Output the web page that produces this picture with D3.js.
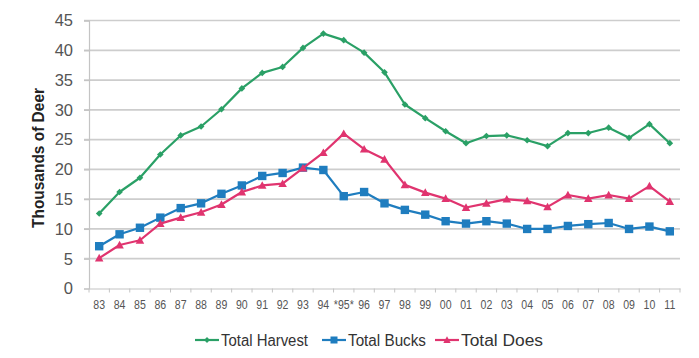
<!DOCTYPE html>
<html>
<head>
<meta charset="utf-8">
<script src="https://cdn.jsdelivr.net/npm/d3@7"></script>
<style>
  html, body { margin: 0; padding: 0; background: #fff; }
  svg { display: block; }
  text { font-family: "Liberation Sans Narrow", "Arial Narrow", "Liberation Sans", Arial, sans-serif; }
</style>
</head>
<body>
<svg id="chart" width="699" height="358"></svg>
<script>
// Deer harvest by season, thousands of animals
const seasons = ["83","84","85","86","87","88","89","90","91","92","93","94","*95*","96","97","98","99","00","01","02","03","04","05","06","07","08","09","10","11"];
const totalHarvest = [12.6,16.2,18.6,22.5,25.7,27.2,30.1,33.6,36.2,37.2,40.4,42.8,41.7,39.6,36.3,30.9,28.6,26.4,24.4,25.6,25.7,24.9,23.9,26.1,26.1,27.0,25.3,27.6,24.4];
const totalBucks   = [7.1,9.1,10.2,11.9,13.5,14.3,15.9,17.3,18.9,19.4,20.3,19.9,15.5,16.2,14.3,13.2,12.4,11.3,10.9,11.3,10.9,10.0,10.0,10.5,10.8,11.0,10.0,10.4,9.6];
const totalDoes    = [5.1,7.3,8.1,10.9,11.9,12.8,14.1,16.2,17.3,17.6,20.2,22.8,26.0,23.4,21.7,17.4,16.1,15.1,13.6,14.3,15.0,14.7,13.7,15.7,15.1,15.7,15.1,17.2,14.6];
const yTicks = [0,5,10,15,20,25,30,35,40,45];

const series = [
  { name: "Total Harvest", values: totalHarvest, color: "#2aa066", marker: "diamond" },
  { name: "Total Bucks",   values: totalBucks,   color: "#1f7dbf", marker: "square" },
  { name: "Total Does",    values: totalDoes,    color: "#e0346f", marker: "triangle" }
];

const svg = d3.select("#chart");
const plotLeft = 89, plotRight = 680, plotTop = 20.5, plotBottom = 288.5;

const x = d3.scaleBand().domain(seasons).range([plotLeft, plotRight]);
const y = d3.scaleLinear().domain([0, 45]).range([plotBottom, plotTop]);

// horizontal gridlines
svg.append("g")
  .selectAll("line")
  .data(yTicks.filter(d => d > 0))
  .join("line")
  .attr("x1", plotLeft - 5).attr("x2", plotRight)
  .attr("y1", d => y(d)).attr("y2", d => y(d))
  .attr("stroke", "#cdcdcd").attr("stroke-width", 1.7);

// y axis
const yAxis = svg.append("g")
  .attr("transform", `translate(${plotLeft},0)`)
  .call(d3.axisLeft(y).tickValues(yTicks).tickSize(5).tickPadding(11));
yAxis.select(".domain").attr("stroke", "#c4c4c4").attr("stroke-width", 1.2);
yAxis.selectAll(".tick line").attr("stroke", "#c4c4c4").attr("stroke-width", 1.2);
yAxis.selectAll("text").attr("fill", "#555").style("font-size", "16.5px");

// x axis with ticks between categories; labels slightly condensed
const xAxis = svg.append("g")
  .attr("transform", `translate(0,${plotBottom})`)
  .call(d3.axisBottom(x).tickSize(0).tickPadding(12));
xAxis.select(".domain").attr("stroke", "#c4c4c4").attr("stroke-width", 1.2);
xAxis.selectAll("text").attr("fill", "#555").style("font-size", "12px")
  .attr("textLength", function () { return this.getComputedTextLength() * 0.88; })
  .attr("lengthAdjust", "spacingAndGlyphs");
xAxis.selectAll(".sep")
  .data(seasons.concat(["end"]))
  .join("line")
  .attr("class", "sep")
  .attr("x1", (d, i) => plotLeft + i * x.step()).attr("x2", (d, i) => plotLeft + i * x.step())
  .attr("y1", 0).attr("y2", 4)
  .attr("stroke", "#c4c4c4").attr("stroke-width", 1);

// y axis title
svg.append("text")
  .attr("transform", `translate(44,158) rotate(-90)`)
  .attr("text-anchor", "middle")
  .attr("fill", "#222")
  .style("font-size", "16.5px").style("font-weight", "bold")
  .attr("textLength", 140).attr("lengthAdjust", "spacingAndGlyphs")
  .text("Thousands of Deer");

const cx = d => x(d) + x.bandwidth() / 2;

function drawMarker(g, type, color, size) {
  if (type === "square") {
    g.append("rect").attr("x", -size).attr("y", -size).attr("width", 2 * size).attr("height", 2 * size).attr("fill", color);
  } else if (type === "diamond") {
    const s = size * 0.9;
    g.append("path").attr("d", `M0,${-s}L${s},0L0,${s}L${-s},0Z`).attr("fill", color);
  } else {
    const s = size * 1.15;
    g.append("path").attr("d", `M0,${-s}L${s},${s * 0.8}L${-s},${s * 0.8}Z`).attr("fill", color);
  }
}

const line = d3.line().x(d => cx(d.season)).y(d => y(d.value));

series.forEach(s => {
  const pts = seasons.map((season, i) => ({ season, value: s.values[i] }));
  svg.append("path")
    .datum(pts)
    .attr("d", line)
    .attr("fill", "none")
    .attr("stroke", s.color)
    .attr("stroke-width", 2.2)
    .attr("stroke-linejoin", "round");
  svg.append("g").selectAll("g")
    .data(pts)
    .join("g")
    .attr("transform", d => `translate(${cx(d.season)},${y(d.value)})`)
    .each(function () { drawMarker(d3.select(this), s.marker, s.color, s.marker === "square" ? 4.2 : 3.7); });
});

// legend
const legendX = [195, 322, 435];
const legend = svg.append("g").attr("transform", "translate(0,340)");
series.forEach((s, i) => {
  const g = legend.append("g").attr("transform", `translate(${legendX[i]},0)`);
  g.append("line").attr("x1", 0).attr("x2", 24).attr("y1", 0).attr("y2", 0)
    .attr("stroke", s.color).attr("stroke-width", 2.2);
  const m = g.append("g").attr("transform", "translate(12,0)");
  drawMarker(m, s.marker, s.color, s.marker === "square" ? 3.5 : 3.2);
  g.append("text").attr("x", 26).attr("y", 6)
    .attr("fill", "#333").style("font-size", "16px")
    .attr("textLength", [87, 78, 82][i]).attr("lengthAdjust", "spacingAndGlyphs")
    .text(s.name);
});
</script>
</body>
</html>
